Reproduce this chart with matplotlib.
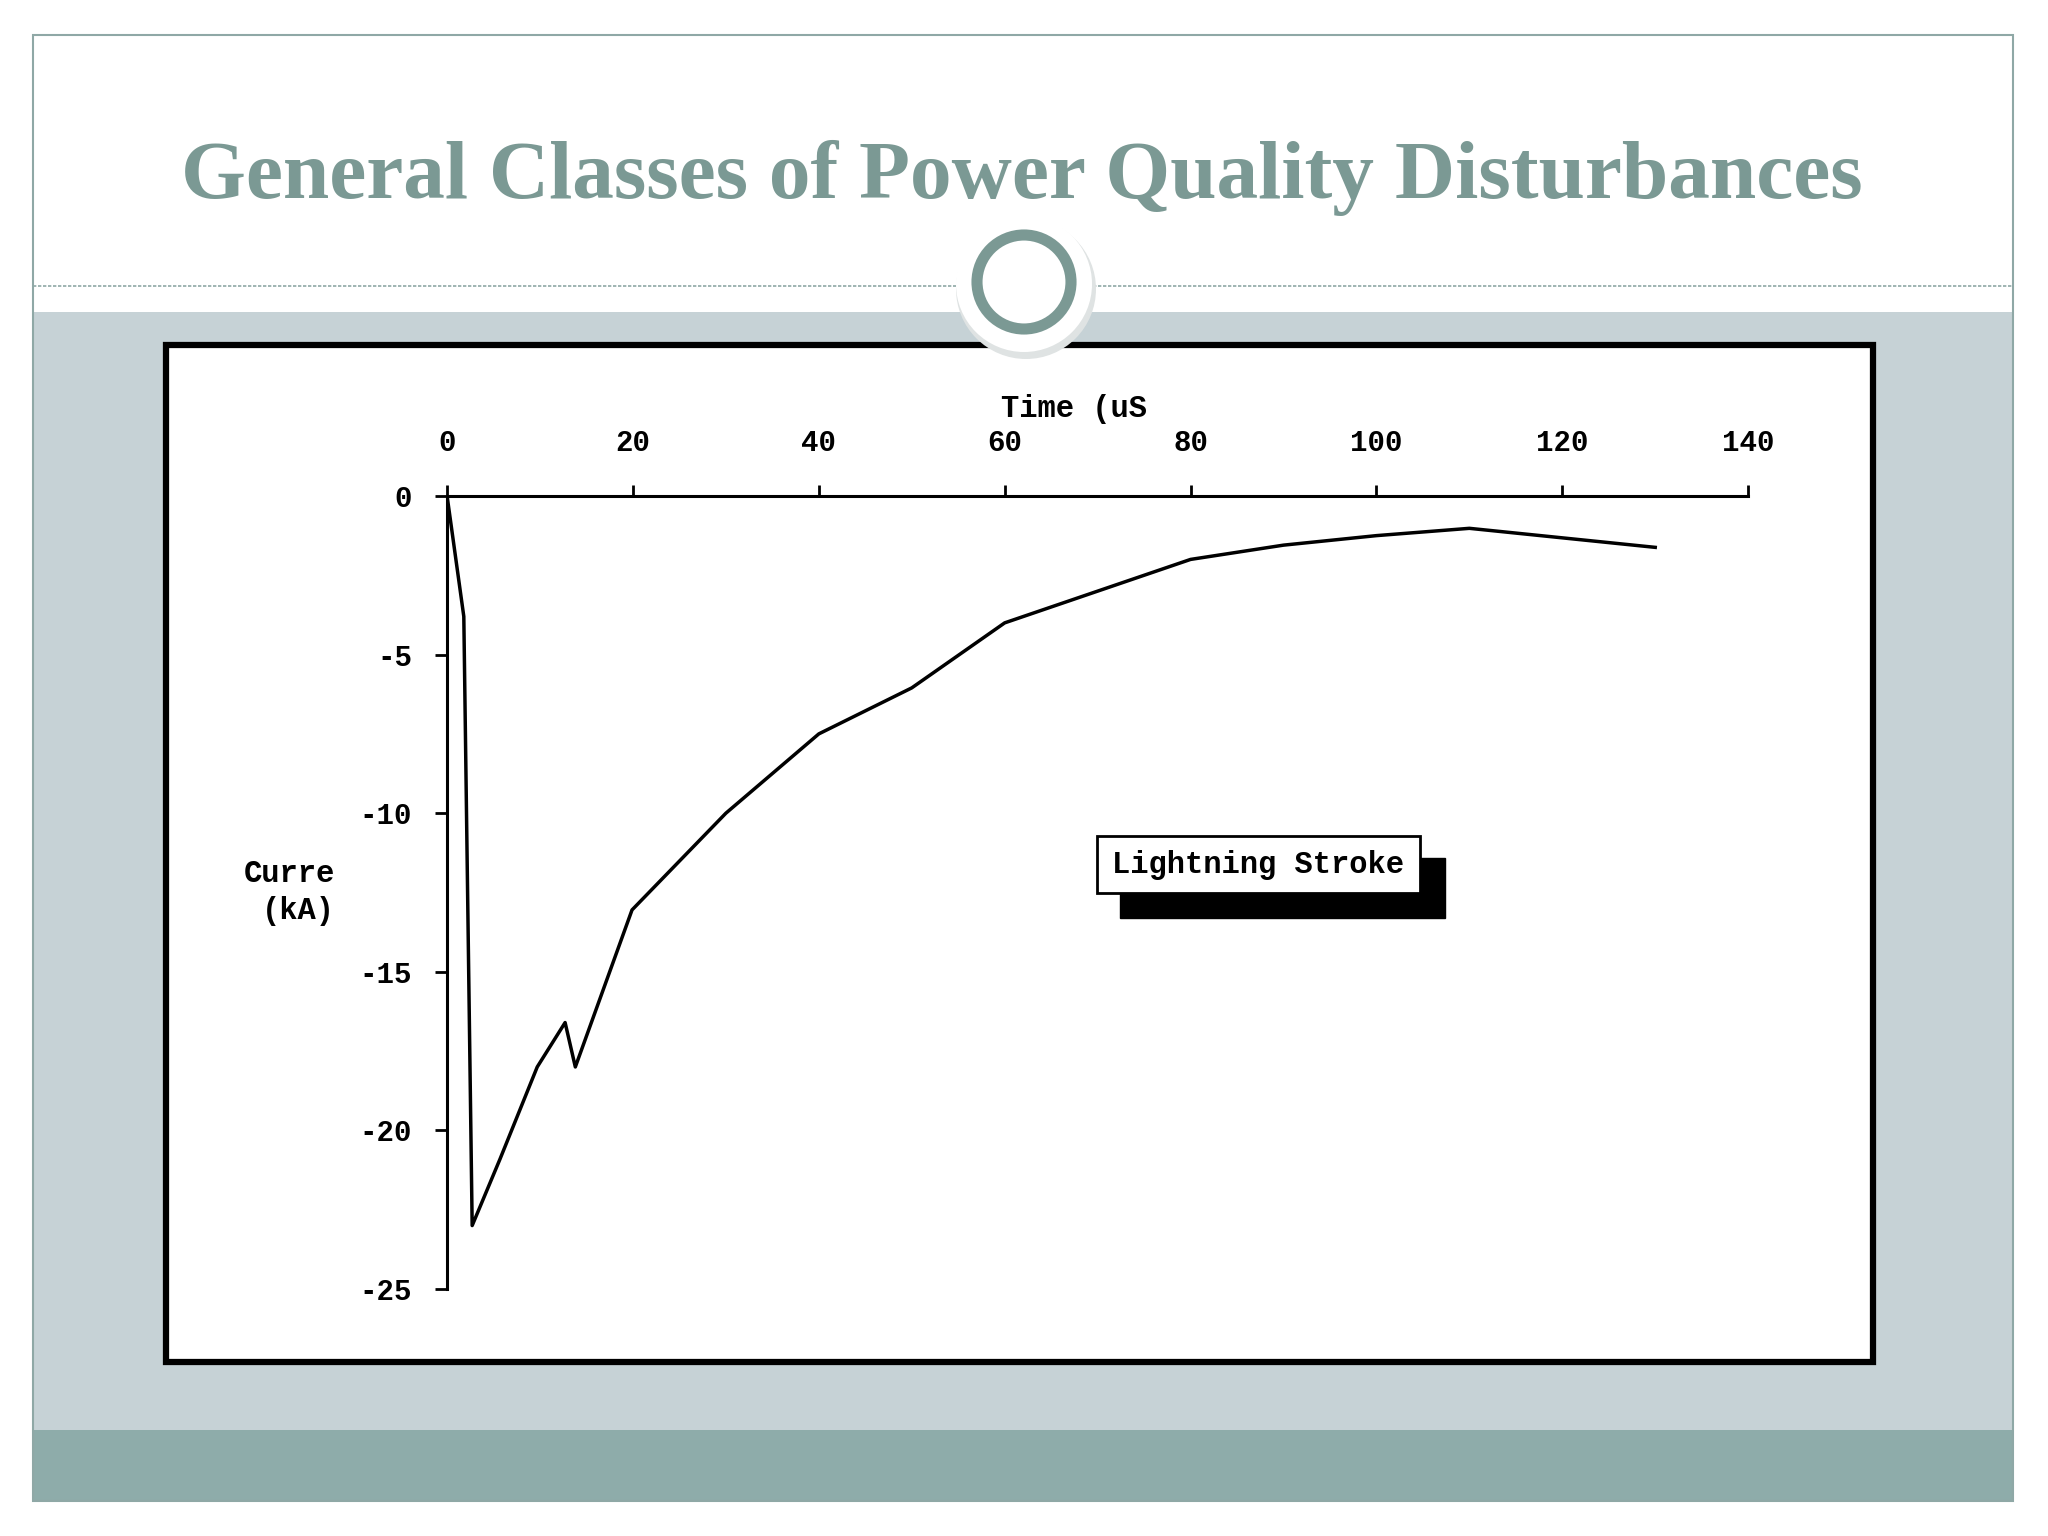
#importar pacotes
import matplotlib
matplotlib.use('Agg')
import matplotlib.pyplot as plt
from matplotlib.patches import Rectangle, Circle

#dados
tempo = [0, 1.8, 2.7, 5.7, 9.7, 12.7, 13.8, 19.9, 30, 40, 50, 60, 70, 80, 90, 100, 110, 130]
corrente = [0, -3.8, -23.0, -20.9, -18.0, -16.6, -18.0, -13.05, -10.0, -7.5, -6.05, -4.0,
            -3.0, -2.0, -1.55, -1.25, -1.02, -1.62]
xticks = [0, 20, 40, 60, 80, 100, 120, 140]
yticks = [0, -5, -10, -15, -20, -25]
titulo = 'General Classes of Power Quality Disturbances'
rotulo_x = 'Time (uS'
rotulo_y = 'Curre\n(kA)'
legenda = 'Lightning Stroke'

#cores
teal = '#7b9994'
cinza = '#c6d2d6'
faixa = '#8eacaa'

#criar figura
fig = plt.figure(figsize=(20.48, 15.36), dpi=100)
fig.patch.set_facecolor('white')

#fundo do slide (coordenadas em pixels)
bg = fig.add_axes([0, 0, 1, 1])
bg.set_xlim(0, 2048)
bg.set_ylim(1536, 0)
bg.axis('off')
bg.add_patch(Rectangle((33, 312), 1980, 1118, facecolor=cinza, edgecolor='none'))
bg.add_patch(Rectangle((33, 1430), 1980, 71, facecolor=faixa, edgecolor='none'))
bg.add_patch(Rectangle((33, 35), 1980, 1466, facecolor='none', edgecolor='#8fa8a6', linewidth=1.5))
bg.plot([33, 2013], [286, 286], color='#8fa8a6', linewidth=1.2, linestyle=(0, (2, 1)))
#caixa do grafico
bg.add_patch(Rectangle((166, 345), 1707, 1017, facecolor='white', edgecolor='black', linewidth=4.5))
#circulo
bg.add_patch(Circle((1026, 289), 70, facecolor='#dfe3e3', edgecolor='none', zorder=3))
bg.add_patch(Circle((1024, 284), 68, facecolor='white', edgecolor='none', zorder=3))
bg.add_patch(Circle((1024, 282), 47, facecolor='white', edgecolor=teal, linewidth=8, zorder=4))
#titulo
bg.text(1022, 178, titulo, fontsize=60, fontweight='bold', family='Liberation Serif',
        color=teal, ha='center', va='center')

#eixos do grafico
ax = fig.add_axes([0.2183, 0.1608, 0.6353, 0.5163])
ax.patch.set_alpha(0)
ax.plot(tempo, corrente, color='black', linewidth=2.5)
ax.set_xlim(0, 140)
ax.set_ylim(-25, 0)
ax.spines['right'].set_visible(False)
ax.spines['bottom'].set_visible(False)
ax.spines['top'].set_linewidth(2.2)
ax.spines['left'].set_linewidth(2.2)
ax.xaxis.tick_top()
ax.set_xticks(xticks)
ax.set_yticks(yticks)
ax.set_xticklabels([str(v) for v in xticks])
ax.set_yticklabels([str(v) for v in yticks])
ax.tick_params(axis='x', direction='out', length=8, width=2, pad=20, labelsize=21)
ax.tick_params(axis='y', direction='out', length=9, width=2, pad=16, labelsize=21)
for lab in ax.get_xticklabels() + ax.get_yticklabels():
    lab.set_family('Liberation Mono')
    lab.set_fontweight('bold')

#nomes nos eixos
ax.text(67.5, 1.11, rotulo_x, transform=ax.get_xaxis_transform(), fontsize=22,
        family='Liberation Mono', fontweight='bold', ha='center', va='center')
ax.text(-17, -12.5, rotulo_y, fontsize=22, family='Liberation Mono', fontweight='bold',
        ha='center', va='center', multialignment='right', linespacing=1.3)

#caixa da legenda com sombra
ax.add_patch(Rectangle((72.4, -13.3), 35.0, 1.9, facecolor='black', edgecolor='black', clip_on=False))
ax.add_patch(Rectangle((69.9, -12.52), 34.8, 1.81, facecolor='white', edgecolor='black', linewidth=2))
ax.text(87.3, -11.62, legenda, fontsize=22, family='Liberation Mono', fontweight='bold',
        ha='center', va='center')

#salvar a figura
plt.savefig('out.png', dpi=100)
